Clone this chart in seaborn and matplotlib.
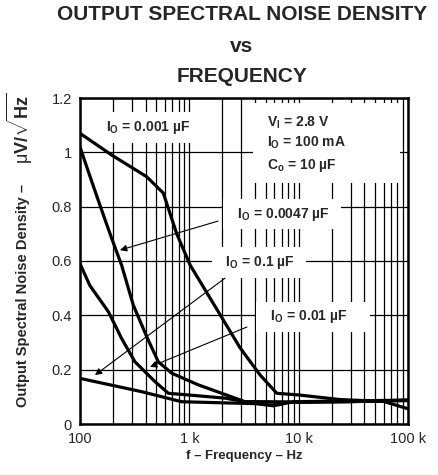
import numpy as np
import pandas as pd
import matplotlib
matplotlib.use('Agg')
import matplotlib.pyplot as plt
import seaborn as sns
from matplotlib.patches import Rectangle
from matplotlib.ticker import FixedLocator, LogLocator, NullFormatter

# curve data (frequency in Hz, noise in uV/rtHz)
freq_0001 = [100, 195, 408, 578, 767, 1017, 2916, 4446, 6312, 9935, 23900, 60000, 100000]
noise_0001 = [1.07, 0.99, 0.91, 0.85, 0.70, 0.585, 0.28, 0.18, 0.113, 0.107, 0.09, 0.083, 0.056]

freq_00047 = [100, 119, 152, 195, 240, 307, 408, 520, 690, 1210, 1980, 3230, 10000, 30000, 100000]
noise_00047 = [1.02, 0.93, 0.806, 0.683, 0.585, 0.438, 0.321, 0.229, 0.187, 0.144, 0.113, 0.082, 0.08, 0.082, 0.088]

freq_001 = [100, 123, 182, 240, 318, 485, 643, 975, 2140, 3230, 10000, 100000]
noise_001 = [0.59, 0.51, 0.413, 0.315, 0.229, 0.156, 0.113, 0.107, 0.095, 0.082, 0.08, 0.086]

freq_01 = [100, 366, 850, 2000, 4000, 5870, 8930, 30000, 100000]
noise_01 = [0.168, 0.119, 0.082, 0.078, 0.075, 0.067, 0.082, 0.085, 0.088]

x_ticks = [100, 1000, 10000, 100000]
x_tick_labels = ['100', '1 k', '10 k', '100 k']
y_ticks = [0, 0.2, 0.4, 0.6, 0.8, 1.0, 1.2]
y_tick_labels = ['0', '0.2', '0.4', '0.6', '0.8', '1', '1.2']


def build_frame():
    parts = []
    for name, f, n in [('0.001', freq_0001, noise_0001),
                       ('0.0047', freq_00047, noise_00047),
                       ('0.01', freq_001, noise_001),
                       ('0.1', freq_01, noise_01)]:
        parts.append(pd.DataFrame({'Frequency': f, 'Noise': n, 'Cap': name}))
    return pd.concat(parts, ignore_index=True)


def plot_noise(data):
    sns.set_style('white')
    plt.rcParams['font.family'] = ['Liberation Sans', 'DejaVu Sans']
    plt.rcParams['mathtext.fontset'] = 'custom'
    plt.rcParams['mathtext.rm'] = 'Liberation Sans'
    plt.rcParams['mathtext.bf'] = 'Liberation Sans:bold'
    plt.rcParams['mathtext.it'] = 'Liberation Sans:italic'

    fig = plt.figure(figsize=(4.39, 4.75), dpi=100)
    ax = fig.add_axes([80 / 439, 51 / 475, 328 / 439, 326 / 475])

    sns.lineplot(data=data, x='Frequency', y='Noise', hue='Cap', units='Cap',
                 estimator=None, palette=['black'] * 4, linewidth=2.3,
                 legend=False, ax=ax, zorder=5)

    ax.set_xscale('log')
    ax.set_xlim(100, 100000)
    ax.set_ylim(0, 1.2)
    ax.xaxis.set_major_locator(FixedLocator(x_ticks))
    ax.set_xticklabels(x_tick_labels)
    ax.xaxis.set_minor_locator(LogLocator(base=10, subs=np.arange(2, 10)))
    ax.xaxis.set_minor_formatter(NullFormatter())
    ax.set_yticks(y_ticks)
    ax.set_yticklabels(y_tick_labels)
    ax.tick_params(which='both', length=0, labelsize=10.5, pad=6)
    ax.grid(which='both', color='black', linewidth=0.9)
    ax.set_axisbelow(True)
    for s in ax.spines.values():
        s.set_linewidth(1.8)
        s.set_color('black')
        s.set_zorder(6)

    ax.set_xlabel('f – Frequency – Hz', fontweight='bold', fontsize=9.5, labelpad=3)
    ax.set_ylabel('')
    fig.text(23 / 439, 1 - 295 / 475, 'Output Spectral Noise Density –', rotation=90,
             ha='center', va='center', fontsize=10.5, fontweight='bold')
    fig.text(20 / 439, 1 - 128 / 475, '$\\mathrm{\\mu}$V/$\\sqrt{\\mathbf{Hz}}$',
             rotation=90, ha='center', va='center', fontsize=13, fontweight='bold')

    box = dict(boxstyle='square,pad=0.5', fc='white', ec='none')
    kw = dict(fontsize=10, fontweight='bold', bbox=box, zorder=4)
    ax.text(419, 1.093, 'I$_\\mathbf{O}$ = 0.001 µF', ha='center', va='center', **kw)
    ax.text(7050, 0.773, '  I$_\\mathbf{O}$ = 0.0047 µF  ', ha='center', va='center', **kw)
    ax.text(4333, 0.593, '  I$_\\mathbf{O}$ = 0.1 µF  ', ha='center', va='center', **kw)
    ax.text(13500, 0.394, '  I$_\\mathbf{O}$ = 0.01 µF     ', ha='center', va='center', **kw)

    # white panel behind the operating conditions
    ax.add_patch(Rectangle((173 / 328, 241 / 326), 147 / 328, 80 / 326,
                           transform=ax.transAxes, fc='white', ec='none', zorder=3))
    kw2 = dict(fontsize=10, fontweight='bold', zorder=4)
    ax.text(5145, 1.108, 'V$_\\mathbf{I}$ = 2.8 V', ha='left', va='center', **kw2)
    ax.text(5145, 1.034, 'I$_\\mathbf{O}$ = 100 mA', ha='left', va='center', **kw2)
    ax.text(5145, 0.953, 'C$_\\mathbf{o}$ = 10 µF', ha='left', va='center', **kw2)

    arrow = dict(arrowstyle='-|>', color='black', lw=0.8, mutation_scale=10,
                 shrinkA=0, shrinkB=0)
    ax.annotate('', xy=(232, 0.64), xytext=(1832, 0.747), arrowprops=arrow, zorder=7)
    ax.annotate('', xy=(137, 0.18), xytext=(2123, 0.537), arrowprops=arrow, zorder=7)
    ax.annotate('', xy=(437, 0.21), xytext=(3365, 0.357), arrowprops=arrow, zorder=7)

    fig.text(242 / 439, 1 - 15 / 475, 'OUTPUT SPECTRAL NOISE DENSITY', ha='center',
             va='center', fontsize=15, fontweight='bold')
    fig.text(242 / 439, 1 - 47 / 475, 'vs', ha='center', va='center',
             fontsize=15, fontweight='bold')
    fig.text(242 / 439, 1 - 77 / 475, 'FREQUENCY', ha='center', va='center',
             fontsize=15, fontweight='bold')

    plt.savefig('out.png', dpi=100)


def main():
    data = build_frame()
    plot_noise(data)


if __name__ == '__main__':
    main()
